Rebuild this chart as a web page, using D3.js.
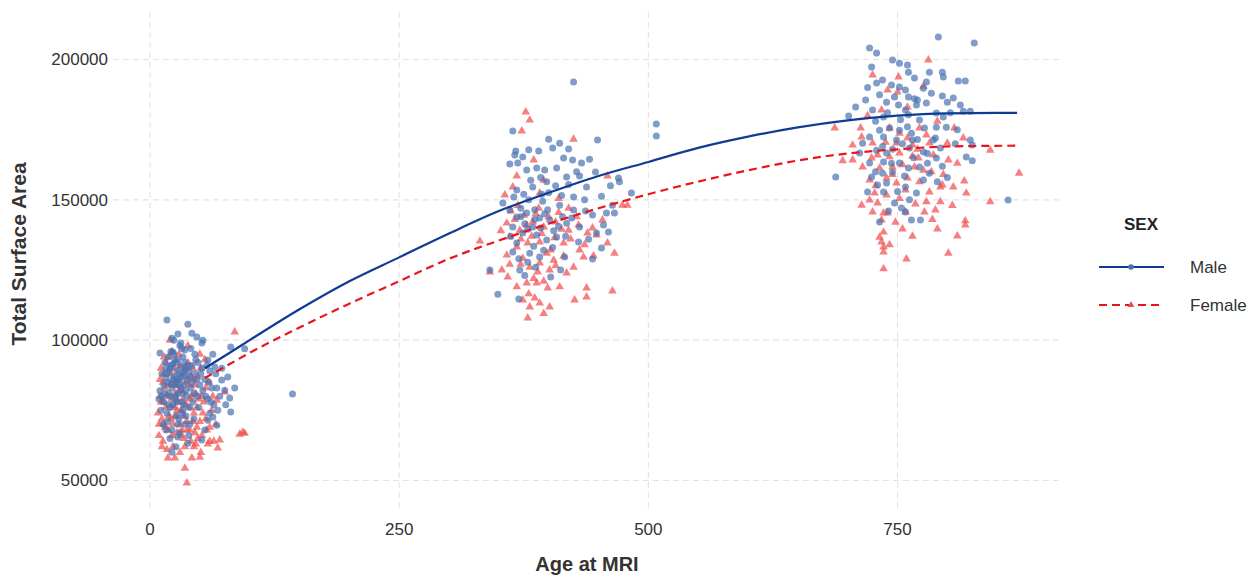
<!DOCTYPE html>
<html>
<head>
<meta charset="utf-8">
<script src="https://cdn.jsdelivr.net/npm/d3@7"></script>
<style>
  body { margin: 0; background: #fff; }
  svg { font-family: "Liberation Sans", Arial, sans-serif; }
</style>
</head>
<body>
<svg></svg>
<script>
// axis ticks
const xTicks = [0, 250, 500, 750];
const yTicks = [50000, 100000, 150000, 200000];

// fitted curves (age, surface area)
const fitAges   = [55, 80, 100, 150, 200, 250, 300, 350, 400, 450, 500, 550, 600, 650, 700, 750, 800, 870];
const maleFit   = [90000, 95500, 100000, 111000, 121000, 129500, 138000, 146000, 152500, 158500, 163500, 168500, 172500, 175800, 178300, 180000, 180800, 181000];
const femaleFit = [86500, 91500, 95500, 104500, 113000, 121000, 129000, 135500, 141500, 147000, 152000, 156500, 160500, 164000, 166500, 168000, 169000, 169300];

// [age, total surface area]
const maleWave1 = [[17,107200],[38,105700],[28,102200],[42,102500],[47,101100],[22,100700],[53,100000],[52,99000],[31,99000],[10,95400],[23,95800],[35,96500],[81,97600],[95,96900],[58,92900],[65,90400],[72,85800],[78,86900],[85,83000],[80,79400],[67,83000],[75,82200],[81,74400],[63,72600],[67,69700],[58,71500],[55,68000],[52,64400],[38,63300],[22,60100],[28,65500],[143,80800],
  [12,88000],[15,92000],[18,85000],[20,90000],[22,83000],[24,87000],[26,80000],[28,93000],[30,86000],[32,78000],[34,89000],[36,82000],[38,91000],[40,76000],[42,85000],[45,88000],[48,80000],[14,78000],[17,74000],[19,81000],[21,96000],[23,77000],[25,84000],[27,89000],[29,72000],[31,83000],[33,94000],[35,70000],[37,86000],[10,82000],[11,75000],[13,70000],[16,68000],[44,72000],[46,93000],[50,84000],[52,90000],[55,86000],[58,79000],[60,74000],[62,83000],[66,88000],[70,80000],[39,66000],[26,62000],[20,65000],[9,79000],[41,97000],[30,98000],[24,100000],
  [16,86500],[19,89000],[21,84500],[23,91500],[25,79000],[27,85000],[29,88000],[31,90500],[33,81000],[35,87500],[18,94000],[20,76000],[26,92000],[32,74000],[36,90000],[44,81000],[48,92000],[56,80000],[60,89000],[64,77000],[14,84000],[12,80000],[34,77000],[40,87000],[28,70000],
  [15,81000],[17,88000],[19,77000],[21,91000],[23,86000],[25,93000],[27,78000],[29,84000],[31,87000],[33,75000],[35,92000],[37,80000],[39,89000],[41,83000],[43,78000],[45,95000],[47,86000],[49,76000],[51,88000],[53,82000],[57,91000],[59,85000],[61,78000],[63,95000],[68,75000],[72,90000],[76,77000],[18,71000],[22,68000],[26,73000],[30,67000],[34,84000],[36,73000],[40,70000],[42,91000],[24,95000],[28,81000],[32,97000],[20,80000],[16,90000]];

const femaleWave1 = [[85,102900],[93,67200],[90,66500],[95,66800],[35,54400],[42,58000],[50,58300],[51,60000],[37,49100],[70,64400],[68,61600],[75,81500],[67,78600],
  [10,80000],[12,72000],[14,88000],[16,76000],[18,68000],[20,84000],[22,79000],[24,90000],[26,73000],[28,86000],[30,70000],[32,82000],[34,65000],[36,77000],[38,92000],[40,68000],[42,80000],[44,74000],[46,63000],[48,87000],[50,71000],[52,66000],[54,78000],[56,83000],[58,63000],[60,69000],[62,75000],[9,66000],[11,90000],[13,64000],[15,83000],[17,61000],[19,94000],[21,72000],[23,62000],[25,81000],[27,67000],[29,95000],[31,75000],[33,88000],[35,62000],[37,71000],[39,84000],[41,64000],[43,90000],[45,67000],[47,76000],[64,64000],[66,70000],[55,93000],[20,100000],[38,98000],[8,74000],[12,62000],[25,58000],[18,58000],
  [10,86000],[14,70000],[16,92000],[22,66000],[24,76000],[28,78000],[30,91000],[32,68000],[36,85000],[40,79000],[44,86000],[48,65000],[52,80000],[56,72000],[60,64000],[9,70000],[13,78000],[26,84000],[34,73000],[46,81000],
  [11,78000],[13,85000],[15,69000],[17,80000],[19,73000],[21,88000],[23,70000],[25,86000],[27,75000],[29,82000],[31,66000],[33,79000],[35,90000],[37,68000],[39,76000],[41,87000],[43,71000],[45,84000],[47,69000],[49,79000],[51,90000],[53,74000],[57,68000],[59,85000],[63,80000],[14,94000],[22,96000],[30,60000],[44,62000],[50,95000]];

const maleWave2 = [[425,192000],[364,174500],[400,171600],[411,170200],[449,171300],[367,167400],[380,167800],[390,167400],[404,168500],[420,168100],[374,165300],[415,164900],[424,164200],[433,163100],[441,164500],[361,162800],[369,163100],[378,160600],[388,161300],[396,160600],[408,161300],[418,158100],[431,158500],[447,159900],[470,157800],[471,156400],[508,177000],[508,172700],[483,152400],[354,148900],[368,153500],[384,154600],[398,156400],[425,151000],[438,154600],[453,151300],[464,148100],[466,145300],[458,145300],[444,144600],[425,146400],[411,148100],[361,146400],[368,143900],[378,145300],[391,143500],[401,142800],[418,141700],[431,140300],[448,138200],[460,138500],[364,140300],[374,138200],[384,140300],[398,135700],[408,136800],[368,134600],[381,131000],[391,129600],[416,129600],[453,132800],[444,128900],[364,131400],[371,125000],[379,127800],[402,122500],[341,125000],[349,116400],[370,114700],
  [372,147000],[380,150000],[386,146500],[394,149500],[376,141500],[388,137500],[396,145000],[405,139000],[414,144000],[385,133500],[362,137000],[393,152000],
  [375,152000],[382,157000],[392,158000],[400,152500],[407,155000],[413,151500],[420,155500],[428,160000],[436,150000],[372,144000],[379,139500],[386,143000],[392,140000],[399,146500],[404,133000],[410,140500],[417,137000],[423,143500],[430,135000],[437,146000],[365,151000],[370,129000],[376,123000],[387,126000],[395,132000],[412,125000],[440,136000],[455,141000],[462,155000],[366,166000]];

const femaleWave2 = [[377,181300],[381,178400],[373,174500],[425,171600],[385,164200],[368,158500],[459,158500],[356,151700],[364,154600],[391,152400],[474,148100],[479,148100],[331,135300],[358,141700],[371,139200],[384,142100],[395,140300],[407,142100],[420,139200],[430,141000],[439,138200],[454,142800],[448,137500],[459,134600],[466,131000],[361,136800],[368,133200],[379,134600],[391,135000],[402,132100],[415,134600],[431,132100],[358,130300],[374,129200],[391,127500],[405,128500],[425,126000],[435,129600],[341,124300],[353,125000],[359,122500],[381,126000],[389,124300],[401,125000],[418,123900],[368,119000],[378,120400],[388,120400],[399,118600],[411,119000],[438,118600],[464,117500],[374,114300],[386,115000],[426,114300],[438,115400],[381,111800],[401,111800],[391,113200],[379,107900],
  [362,146000],[375,144500],[390,147000],[410,145500],[398,131000],[383,137000],[352,139000],[420,147000],
  [366,143000],[372,136000],[378,141000],[387,145000],[393,138000],[400,144000],[406,136500],[413,139500],[422,136000],[428,144000],[436,134000],[444,140000],[372,127000],[385,122000],[395,121000],[407,126500],[415,130000],[445,130000],[361,127000],[369,148000],[395,157000],[410,150500],[380,116500],[395,109500]];

const maleWave3 = [[791,208000],[827,205900],[722,204100],[729,202300],[745,199800],[752,198700],[760,198000],[724,197300],[761,195500],[782,195500],[795,195500],[796,193800],[811,192300],[818,192300],[735,192700],[729,191600],[744,190900],[752,190200],[758,189100],[767,193400],[779,192000],[776,189800],[732,187400],[747,186600],[761,186600],[770,185600],[718,185600],[708,183100],[725,182000],[739,184800],[751,183800],[758,182000],[769,183800],[779,184500],[800,184800],[806,186300],[813,183800],[701,179900],[736,179500],[761,180300],[772,178400],[789,180900],[796,179500],[816,181600],[823,181600],[732,174800],[742,175600],[752,174800],[764,173700],[777,175600],[789,175900],[799,175900],[722,172400],[736,172400],[749,171300],[765,171300],[786,171300],[823,171300],[825,169500],[715,170200],[712,166700],[729,167700],[739,166700],[762,168500],[776,167000],[793,168500],[722,163100],[736,163500],[752,163100],[772,161700],[789,164900],[819,165300],[825,163900],[688,158100],[724,158100],[735,159500],[745,159900],[761,161300],[782,159500],[730,155300],[739,156000],[758,154600],[776,157100],[790,156400],[720,152800],[736,152800],[769,152400],[747,148900],[754,147100],[758,145700],[732,142100],[764,142800],[773,142800],[861,149900],
  [735,169000],[745,168000],[755,170000],[760,176000],[770,171500],[780,166500],[788,172000],[795,162000],[728,178000],[740,181000],[753,178500],[767,186000],[784,188000],[803,181000],[808,170000],[744,163000],[757,158500],[766,165000],[780,163000],[728,160000],[750,153000],[762,150000],[741,146000],[720,190000],[795,187000],[810,175000],[800,158000]];

const femaleWave3 = [[781,199800],[725,194500],[751,193800],[740,189100],[750,188400],[776,190500],[734,182000],[687,175600],[713,175600],[714,172400],[742,175600],[752,173700],[772,175600],[779,173100],[807,175600],[816,172000],[705,169500],[725,170200],[749,170200],[765,169500],[782,170200],[800,170200],[843,167700],[695,163900],[705,164200],[724,164900],[742,165300],[752,166700],[771,164900],[801,164200],[872,159500],[715,161700],[732,161300],[745,161700],[767,161700],[784,160000],[722,157100],[739,157800],[760,157800],[749,156000],[772,156400],[795,155300],[806,154600],[817,156700],[727,152400],[739,151700],[758,153500],[782,152800],[793,154600],[819,152400],[714,148100],[722,149900],[730,148900],[779,149300],[793,149300],[843,149300],[725,145700],[736,145300],[758,145700],[777,145700],[788,146400],[734,142800],[740,145300],[818,142500],[818,141000],[755,139600],[790,139600],[736,138500],[732,136700],[734,135000],[810,137100],[736,133200],[736,131400],[759,128900],[801,131000],[736,125400],
  [730,166000],[745,159000],[755,162500],[765,165500],[776,160500],[786,166000],[796,159000],[810,163000],[738,170500],[760,172000],[770,168000],[728,155000],[752,150500],[768,148500],[785,143000],[748,142000],[720,180000],[760,183000],[790,178000],[805,148000],[742,134000],[765,137000]];

const W = 1256, H = 575;
const svg = d3.select('svg').attr('width', W).attr('height', H);

const panel = { left: 113, right: 1062, top: 12, bottom: 512 };

const x = d3.scaleLinear().domain([0, 750]).range([150, 897.5]);
const y = d3.scaleLinear().domain([50000, 200000]).range([480.5, 59.5]);

const maleColor = '#4a72b0', maleLine = '#0f3b93';
const femaleColor = '#f04a4a', femaleLine = '#e8161b';

// grid
const grid = svg.append('g').attr('stroke', '#e3e3e3').attr('stroke-width', 1.1).attr('stroke-dasharray', '6,4');
grid.selectAll('line.h').data(yTicks).enter().append('line')
    .attr('x1', panel.left).attr('x2', panel.right)
    .attr('y1', d => y(d)).attr('y2', d => y(d));
grid.selectAll('line.v').data(xTicks).enter().append('line')
    .attr('y1', panel.top).attr('y2', panel.bottom)
    .attr('x1', d => x(d)).attr('x2', d => x(d));

// tick labels
svg.append('g').selectAll('text').data(yTicks).enter().append('text')
    .attr('x', 108).attr('y', d => y(d)).attr('dy', '0.35em')
    .attr('text-anchor', 'end').attr('font-size', 17).attr('fill', '#333')
    .text(d => d);
svg.append('g').selectAll('text').data(xTicks).enter().append('text')
    .attr('x', d => x(d)).attr('y', 535)
    .attr('text-anchor', 'middle').attr('font-size', 17).attr('fill', '#333')
    .text(d => d);

// axis titles
svg.append('text').attr('x', 587).attr('y', 571).attr('text-anchor', 'middle')
    .attr('font-size', 20).attr('font-weight', 'bold').attr('fill', '#333').text('Age at MRI');
svg.append('text').attr('transform', 'translate(26,254) rotate(-90)').attr('text-anchor', 'middle')
    .attr('font-size', 21).attr('font-weight', 'bold').attr('fill', '#333').text('Total Surface Area');

const tri = d3.symbol().type(d3.symbolTriangle).size(32);

const males = maleWave1.concat(maleWave2, maleWave3);
const females = femaleWave1.concat(femaleWave2, femaleWave3);

// females underneath, males on top
svg.append('g').selectAll('path').data(females).enter().append('path')
    .attr('d', tri)
    .attr('transform', d => `translate(${x(d[0])},${y(d[1])})`)
    .attr('fill', femaleColor).attr('fill-opacity', 0.7);

svg.append('g').selectAll('circle').data(males).enter().append('circle')
    .attr('cx', d => x(d[0])).attr('cy', d => y(d[1])).attr('r', 3.5)
    .attr('fill', maleColor).attr('fill-opacity', 0.7);

// fitted lines
const line = d3.line().curve(d3.curveMonotoneX)
    .x(d => x(d[0])).y(d => y(d[1]));

svg.append('path').datum(fitAges.map((a, i) => [a, maleFit[i]]))
    .attr('d', line).attr('fill', 'none').attr('stroke', maleLine).attr('stroke-width', 2.2);
svg.append('path').datum(fitAges.map((a, i) => [a, femaleFit[i]]))
    .attr('d', line).attr('fill', 'none').attr('stroke', femaleLine).attr('stroke-width', 2.2)
    .attr('stroke-dasharray', '8,5');

// legend
const legend = svg.append('g');
legend.append('text').attr('x', 1141).attr('y', 230).attr('text-anchor', 'middle')
    .attr('font-size', 17).attr('font-weight', 'bold').attr('fill', '#222').text('SEX');

const keys = [
  { label: 'Male', y: 267, stroke: maleLine, dash: null, fill: maleColor, shape: 'circle' },
  { label: 'Female', y: 305, stroke: femaleLine, dash: '8,5', fill: femaleColor, shape: 'tri' }
];
keys.forEach(k => {
  legend.append('line').attr('x1', 1099).attr('x2', 1164).attr('y1', k.y).attr('y2', k.y)
      .attr('stroke', k.stroke).attr('stroke-width', 2.2).attr('stroke-dasharray', k.dash);
  if (k.shape === 'circle') {
    legend.append('circle').attr('cx', 1131).attr('cy', k.y).attr('r', 2.8).attr('fill', k.fill);
  } else {
    legend.append('path').attr('d', d3.symbol().type(d3.symbolTriangle).size(20))
        .attr('transform', `translate(1131,${k.y})`).attr('fill', k.fill);
  }
  legend.append('text').attr('x', 1190).attr('y', k.y).attr('dy', '0.35em')
      .attr('font-size', 17).attr('fill', '#333').text(k.label);
});
</script>
</body>
</html>
